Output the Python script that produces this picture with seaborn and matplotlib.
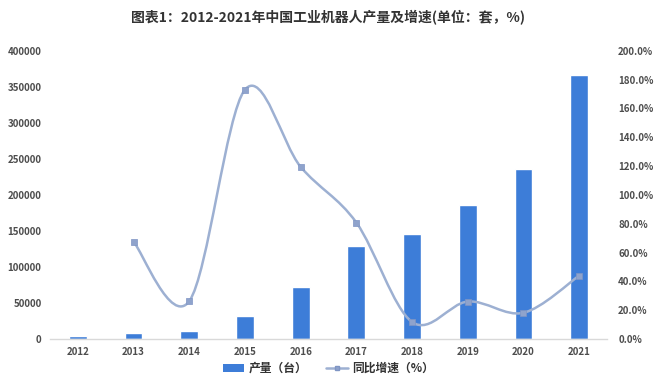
import numpy as np
import pandas as pd
import matplotlib
matplotlib.use('Agg')
import matplotlib.pyplot as plt
from matplotlib.path import Path
from matplotlib.patches import PathPatch
from matplotlib.lines import Line2D
from matplotlib.patches import Patch
import seaborn as sns

# data
years = ['2012', '2013', '2014', '2015', '2016', '2017', '2018', '2019', '2020', '2021']
output = [4600, 7900, 11500, 31500, 71500, 129500, 146000, 186000, 236500, 366000]
growth_years = years[1:]
growth = [67.5, 26.2, 173.0, 119.5, 80.8, 11.8, 26.0, 18.2, 44.0]

sns.set_theme(style='white')
plt.rcParams['font.family'] = ['Noto Sans CJK SC', 'DejaVu Sans']

bar_color = '#3D7DD8'
line_color = '#9DB0D2'
tick_color = '#4D4D4D'

fig = plt.figure(figsize=(6.57, 3.91), dpi=100)
ax = fig.add_axes([0.076, 0.133, 0.848, 0.737])

df = pd.DataFrame({'year': years, 'output': output})
sns.barplot(data=df, x='year', y='output', color=bar_color, width=0.32,
            saturation=1, ax=ax)
ax.set_ylim(0, 400000)
ax.set_xlim(-0.5, 9.5)
ax.set_yticks(np.arange(0, 400001, 50000))
ax.set_yticklabels([f'{v:d}' for v in range(0, 400001, 50000)])
ax.set_xlabel('')
ax.set_ylabel('')
for s in ['top', 'right', 'left']:
    ax.spines[s].set_visible(False)
ax.spines['bottom'].set_color('#D9D9D9')
ax.spines['bottom'].set_linewidth(1)
ax.tick_params(axis='both', length=0, labelsize=7, colors=tick_color, pad=6)
for lab in ax.get_xticklabels() + ax.get_yticklabels():
    lab.set_fontweight('bold')

# growth rate on the secondary axis
ax2 = ax.twinx()
ax2.set_ylim(0, 200)
ax2.set_yticks(np.arange(0, 201, 20))
ax2.set_yticklabels([f'{v:.1f}%' for v in range(0, 201, 20)])
for s in ax2.spines.values():
    s.set_visible(False)
ax2.tick_params(axis='y', length=0, labelsize=7, colors=tick_color, pad=8)
for lab in ax2.get_yticklabels():
    lab.set_fontweight('bold')

# smoothed line (Excel-style), drawn as bezier segments through the points
xs = np.array([years.index(y) for y in growth_years], dtype=float)
ys = np.array(growth, dtype=float)
pts = np.column_stack([xs, ys])
ext = np.vstack([pts[0], pts, pts[-1]])
verts = [tuple(pts[0])]
codes = [Path.MOVETO]
for i in range(len(pts) - 1):
    p0, p1, p2, p3 = ext[i], ext[i + 1], ext[i + 2], ext[i + 3]
    c1 = p1 + (p2 - p0) / 6
    c2 = p2 - (p3 - p1) / 6
    verts += [tuple(c1), tuple(c2), tuple(p2)]
    codes += [Path.CURVE4] * 3
ax2.add_patch(PathPatch(Path(verts, codes), facecolor='none',
                        edgecolor=line_color, lw=1.8, zorder=3))
gdf = pd.DataFrame({'x': xs, 'growth': ys})
sns.scatterplot(data=gdf, x='x', y='growth', marker='s', s=16,
                color='#8FA3CC', edgecolor='#7F95C4', linewidth=0.5,
                ax=ax2, zorder=4)
ax2.set_xlabel('')
ax2.set_ylabel('')
ax2.set_xlim(-0.5, 9.5)

fig.text(0.5, 0.955, '图表1：2012-2021年中国工业机器人产量及增速(单位：套，%)',
         ha='center', va='center', fontsize=10, fontweight='bold', color='#333333')

handles = [Patch(facecolor=bar_color, edgecolor='none'),
           Line2D([0], [0], color=line_color, lw=1.8, marker='s', markersize=3.5,
                  markerfacecolor='#8FA3CC', markeredgecolor='#7F95C4')]
leg = fig.legend(handles, ['产量（台）', '同比增速（%）'], loc='center',
                 bbox_to_anchor=(0.5, 0.058), ncol=2, frameon=False,
                 fontsize=8.5, handlelength=1.8, handleheight=0.7,
                 columnspacing=1.6, handletextpad=0.4, labelcolor='#333333')
for t in leg.get_texts():
    t.set_fontweight('bold')

fig.savefig('out.png', dpi=100)
